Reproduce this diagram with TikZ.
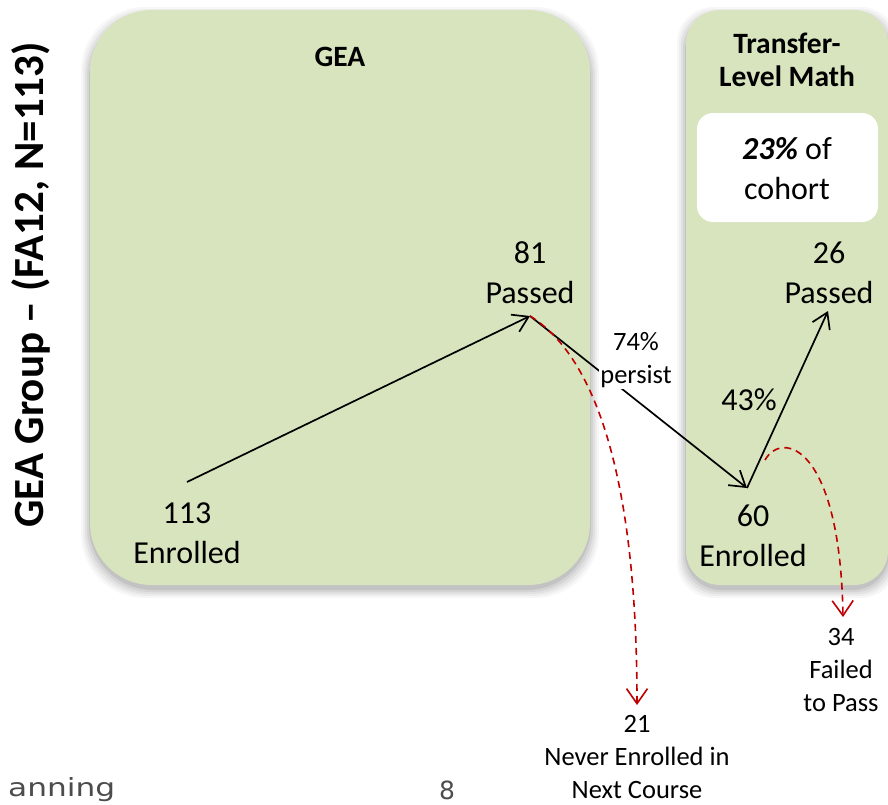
\documentclass[tikz,border=0pt]{standalone}
\usepackage{fontspec}
\setmainfont{Carlito}
\newfontfamily\footfont{DejaVu Sans}
\usetikzlibrary{arrows.meta}
\definecolor{panel}{HTML}{D7E4BD}
\definecolor{dred}{HTML}{C00000}
\begin{document}
\begin{tikzpicture}[x=1pt,y=-1pt,
 big/.style={font=\fontsize{32}{40}\selectfont, align=center, inner sep=0pt},
 small/.style={font=\fontsize{26.5}{33}\selectfont, align=center, inner sep=0pt},
 head/.style={font=\fontsize{29.5}{33}\selectfont\bfseries, align=center, inner sep=0pt},
 flow/.style={line width=1.7pt, -{Straight Barb[length=15pt,width=19pt]}},
 loss/.style={draw=dred, line width=1.6pt, dash pattern=on 7pt off 5pt, -{Straight Barb[length=15pt,width=21pt]}},
 foot/.style={font=\footfont\fontsize{25}{30}\selectfont, text=black!70, inner sep=0pt},
]
\useasboundingbox (0,0) rectangle (888,804);
\clip (0,0) rectangle (888,804);
% shadows
\foreach \i/\o in {9/0.03,7/0.04,5/0.05,3/0.06,1/0.08} {
  \fill[black, opacity=\o, rounded corners=64pt] (90-\i,10-\i+6) rectangle (590+\i,585+\i+4);
  \fill[black, opacity=\o, rounded corners=36pt] (686-\i,10-\i+6) rectangle (888+\i,585+\i+4);
}
% panels
\fill[panel, rounded corners=62pt] (90,10) rectangle (590,585);
\fill[panel, rounded corners=34pt] (686,10) rectangle (888,585);
\fill[white, rounded corners=16pt] (697,113) rectangle (878,222);

% titles
\node[head] (gea) at (340,57) {GEA};
\node[head] (tlm) at (787,60) {Transfer-\\Level Math};
\node[big] (cohort) at (787,169) {\textbf{\textit{23\%}} of\\cohort};
\node[font=\fontsize{43}{50}\selectfont\bfseries, rotate=90, inner sep=0pt] (side) at (31,285) {GEA Group – (FA12, N=113)};

% numbers
\node[big] (n113) at (187,533) {113\\Enrolled};
\node[big] (n81) at (530,273) {81\\Passed};
\node[big] (n60) at (753,536) {60\\Enrolled};
\node[big] (n26) at (829,273) {26\\Passed};
\node[big] (n43) at (749,400) {43\%};

% connection points
\coordinate (p113) at (187,482);
\coordinate (p81) at (530,316);
\coordinate (p60) at (747,488);
\coordinate (p26) at (828,311);
\coordinate (q60) at (765,460);
\coordinate (e21) at (637,705);
\coordinate (e34) at (843,617);

\draw[flow] (p113) -- (p81);
\draw[flow] (p81) -- (p60);
\draw[flow] (p60) -- (p26);
\draw[loss] (p81) .. controls (585,350) and (637,450) .. (e21);
\draw[loss] (q60) .. controls (782,430) and (840,445) .. (e34);

\node[small, fill=white, inner sep=1pt] (pers) at (636,360) {74\%\\persist};

\node[small] (l21) at (637,757) {21\\Never Enrolled in\\Next Course};
\node[small] (l34) at (841,670) {34\\Failed\\to Pass};

% footer
\node[foot, anchor=west] (footl) at (8,790) {\scalebox{1.25}[1]{anning}};
\node[foot] (footn) at (447,790) {8};
\end{tikzpicture}
\end{document}
